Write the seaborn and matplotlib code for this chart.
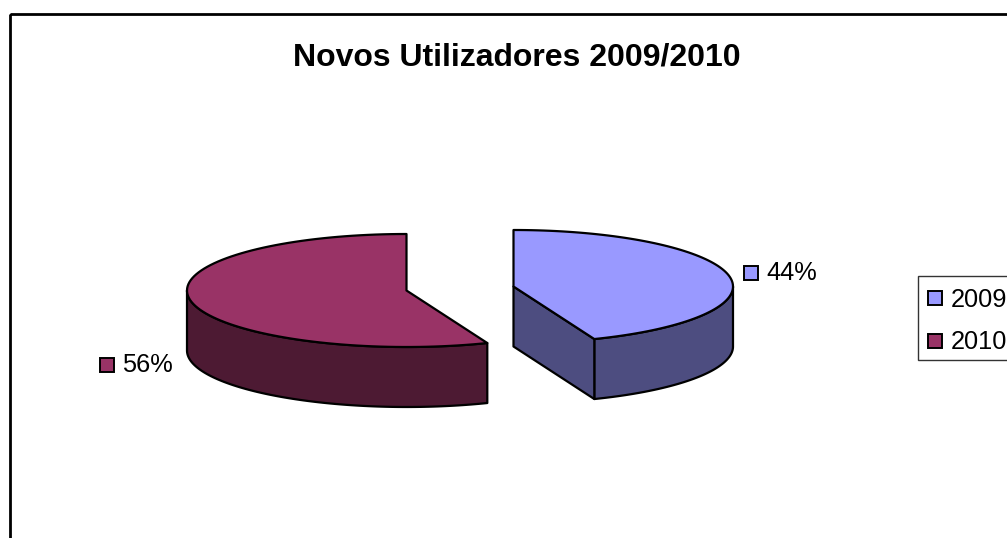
import numpy as np
import matplotlib
matplotlib.use("Agg")
import matplotlib.pyplot as plt
from matplotlib.patches import Polygon, Rectangle
from matplotlib.lines import Line2D
import seaborn as sns

# Data
years = ["2009", "2010"]
shares = [44, 56]
top_colors = ["#9999FF", "#993366"]
side_colors = ["#4D4D80", "#4D1A33"]
title = "Novos Utilizadores 2009/2010"

sns.set_theme(style="white")
plt.rcParams["font.family"] = ["Liberation Sans", "DejaVu Sans"]

fig = plt.figure(figsize=(10.07, 5.38), dpi=100, facecolor="white")
ax = fig.add_axes([0, 0, 1, 1])
ax.set_xlim(0, 1007)
ax.set_ylim(538, 0)
ax.axis("off")

RX, RY, DEPTH = 219.5, 56.5, 60
centers = [(513.5, 286.5), (406.5, 290.5)]
LW = 1.6
EDGE = "black"


def rim(cx, cy, a0, a1, n=100):
    t = np.radians(np.linspace(a0, a1, n))
    return np.column_stack([cx + RX * np.sin(t), cy - RY * np.cos(t)])


def add_poly(pts, color, z):
    ax.add_patch(Polygon(pts, closed=True, facecolor=color, edgecolor=EDGE,
                         linewidth=LW, joinstyle="round", zorder=z))


angles = np.concatenate([[0], np.cumsum(shares)]) / np.sum(shares) * 360
for i, (cx, cy) in enumerate(centers):
    a0, a1 = angles[i], angles[i + 1]
    # outer wall: the part of the rim on the front half
    lo, hi = max(a0, 90), min(a1, 270)
    arc = rim(cx, cy, lo, hi)
    add_poly(np.vstack([arc, arc[::-1] + [0, DEPTH]]), side_colors[i], 2)
    # cut face, visible when it looks towards the viewer's left
    if a0 == 0:
        end = rim(cx, cy, a1, a1, 1)[0]
        quad = [(cx, cy), end, end + [0, DEPTH], (cx, cy + DEPTH)]
        add_poly(quad, side_colors[i], 2)
    # top face
    add_poly(np.vstack([[(cx, cy)], rim(cx, cy, a0, a1)]), top_colors[i], 3)

# Data labels
label_pos = [(751, 272.5), (107, 365)]
for i, (x, y) in enumerate(label_pos):
    ax.plot([x], [y], marker="s", markersize=10, markerfacecolor=top_colors[i],
            markeredgecolor=EDGE, markeredgewidth=1.4, linestyle="none", zorder=4)
    ax.text(x + 15, y, f"{shares[i]}%", fontsize=18.3, color="black",
            ha="left", va="center", zorder=4)

# Title
ax.text(517, 57, title, fontsize=23, fontweight="bold", color="black",
        ha="center", va="center", zorder=4)

# Chart frame, running off the right and bottom of the image
ax.add_patch(Rectangle((9.5, 14), 1100, 700, fill=False, edgecolor="black",
                       linewidth=2.0, clip_on=True, zorder=1))

# Legend box and entries
ax.add_patch(Rectangle((917.5, 276), 120, 84, facecolor="white",
                       edgecolor="#333333", linewidth=1.0, zorder=4))
handles = [Line2D([], [], marker="s", markersize=10, linestyle="none",
                  markerfacecolor=c, markeredgecolor=EDGE, markeredgewidth=1.4)
           for c in top_colors]
leg = ax.legend(handles, years, loc="upper left",
                bbox_to_anchor=(917, 280), bbox_transform=ax.transData,
                fontsize=18.3, frameon=False, borderaxespad=0, borderpad=0.32,
                labelspacing=0.72, handletextpad=0.24, handlelength=0.76)
leg.set_zorder(5)
for t in leg.get_texts():
    t.set_color("black")

fig.savefig("out.png", dpi=100, facecolor="white")
